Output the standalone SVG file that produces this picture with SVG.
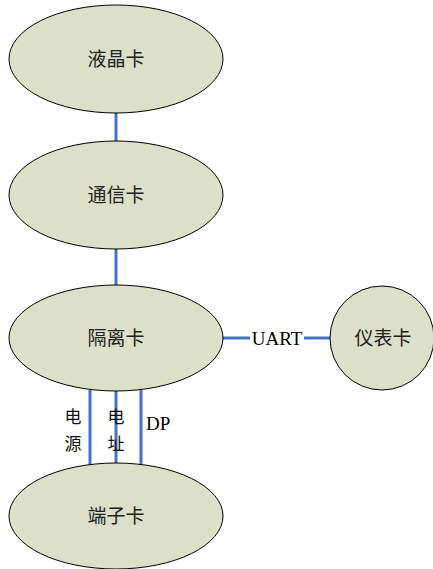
<svg xmlns="http://www.w3.org/2000/svg" width="433" height="569" viewBox="0 0 433 569">
<style>
.n{fill:#DCE0C9;stroke:#000;stroke-width:1}
.t{font-family:"Liberation Serif","Noto Sans CJK SC",serif;font-size:19px;fill:#222;text-anchor:middle}
.l{font-family:"Liberation Serif","Noto Sans CJK SC",serif;font-size:19px;fill:#000}
.s{font-family:"Liberation Serif","Noto Sans CJK SC",serif;font-size:17px;fill:#111;text-anchor:middle}
.c{stroke:#4472C4;stroke-width:3;fill:none}
</style>
<rect width="433" height="569" fill="#fff"/>
<g id="connectors">
<line class="c" x1="116" y1="112" x2="116" y2="142"/>
<line class="c" x1="116" y1="248" x2="116" y2="286"/>
<line class="c" x1="222" y1="338" x2="250" y2="338"/>
<line class="c" x1="304" y1="338" x2="331" y2="338"/>
<line class="c" x1="90" y1="390" x2="90" y2="465"/>
<line class="c" x1="116" y1="391" x2="116" y2="464"/>
<line class="c" x1="141" y1="390" x2="141" y2="465"/>
<text class="l" x="277" y="345" text-anchor="middle">UART</text>
<text class="s" x="73" y="423">电</text>
<text class="s" x="73" y="450">源</text>
<text class="s" x="116" y="423">电</text>
<text class="s" x="116" y="450">址</text>
<text class="l" x="146" y="430">DP</text>
</g>
<g id="lcd"><ellipse class="n" cx="116" cy="59" rx="107" ry="54"/><text class="t" x="116" y="66">液晶卡</text></g>
<g id="comm"><ellipse class="n" cx="116" cy="195" rx="107" ry="54"/><text class="t" x="116" y="202">通信卡</text></g>
<g id="iso"><ellipse class="n" cx="116" cy="338" rx="107" ry="53"/><text class="t" x="116" y="345">隔离卡</text></g>
<g id="meter"><circle class="n" cx="382" cy="338" r="52"/><text class="t" x="383" y="345">仪表卡</text></g>
<g id="term"><ellipse class="n" cx="116" cy="516" rx="107" ry="53"/><text class="t" x="116" y="523">端子卡</text></g>
</svg>
